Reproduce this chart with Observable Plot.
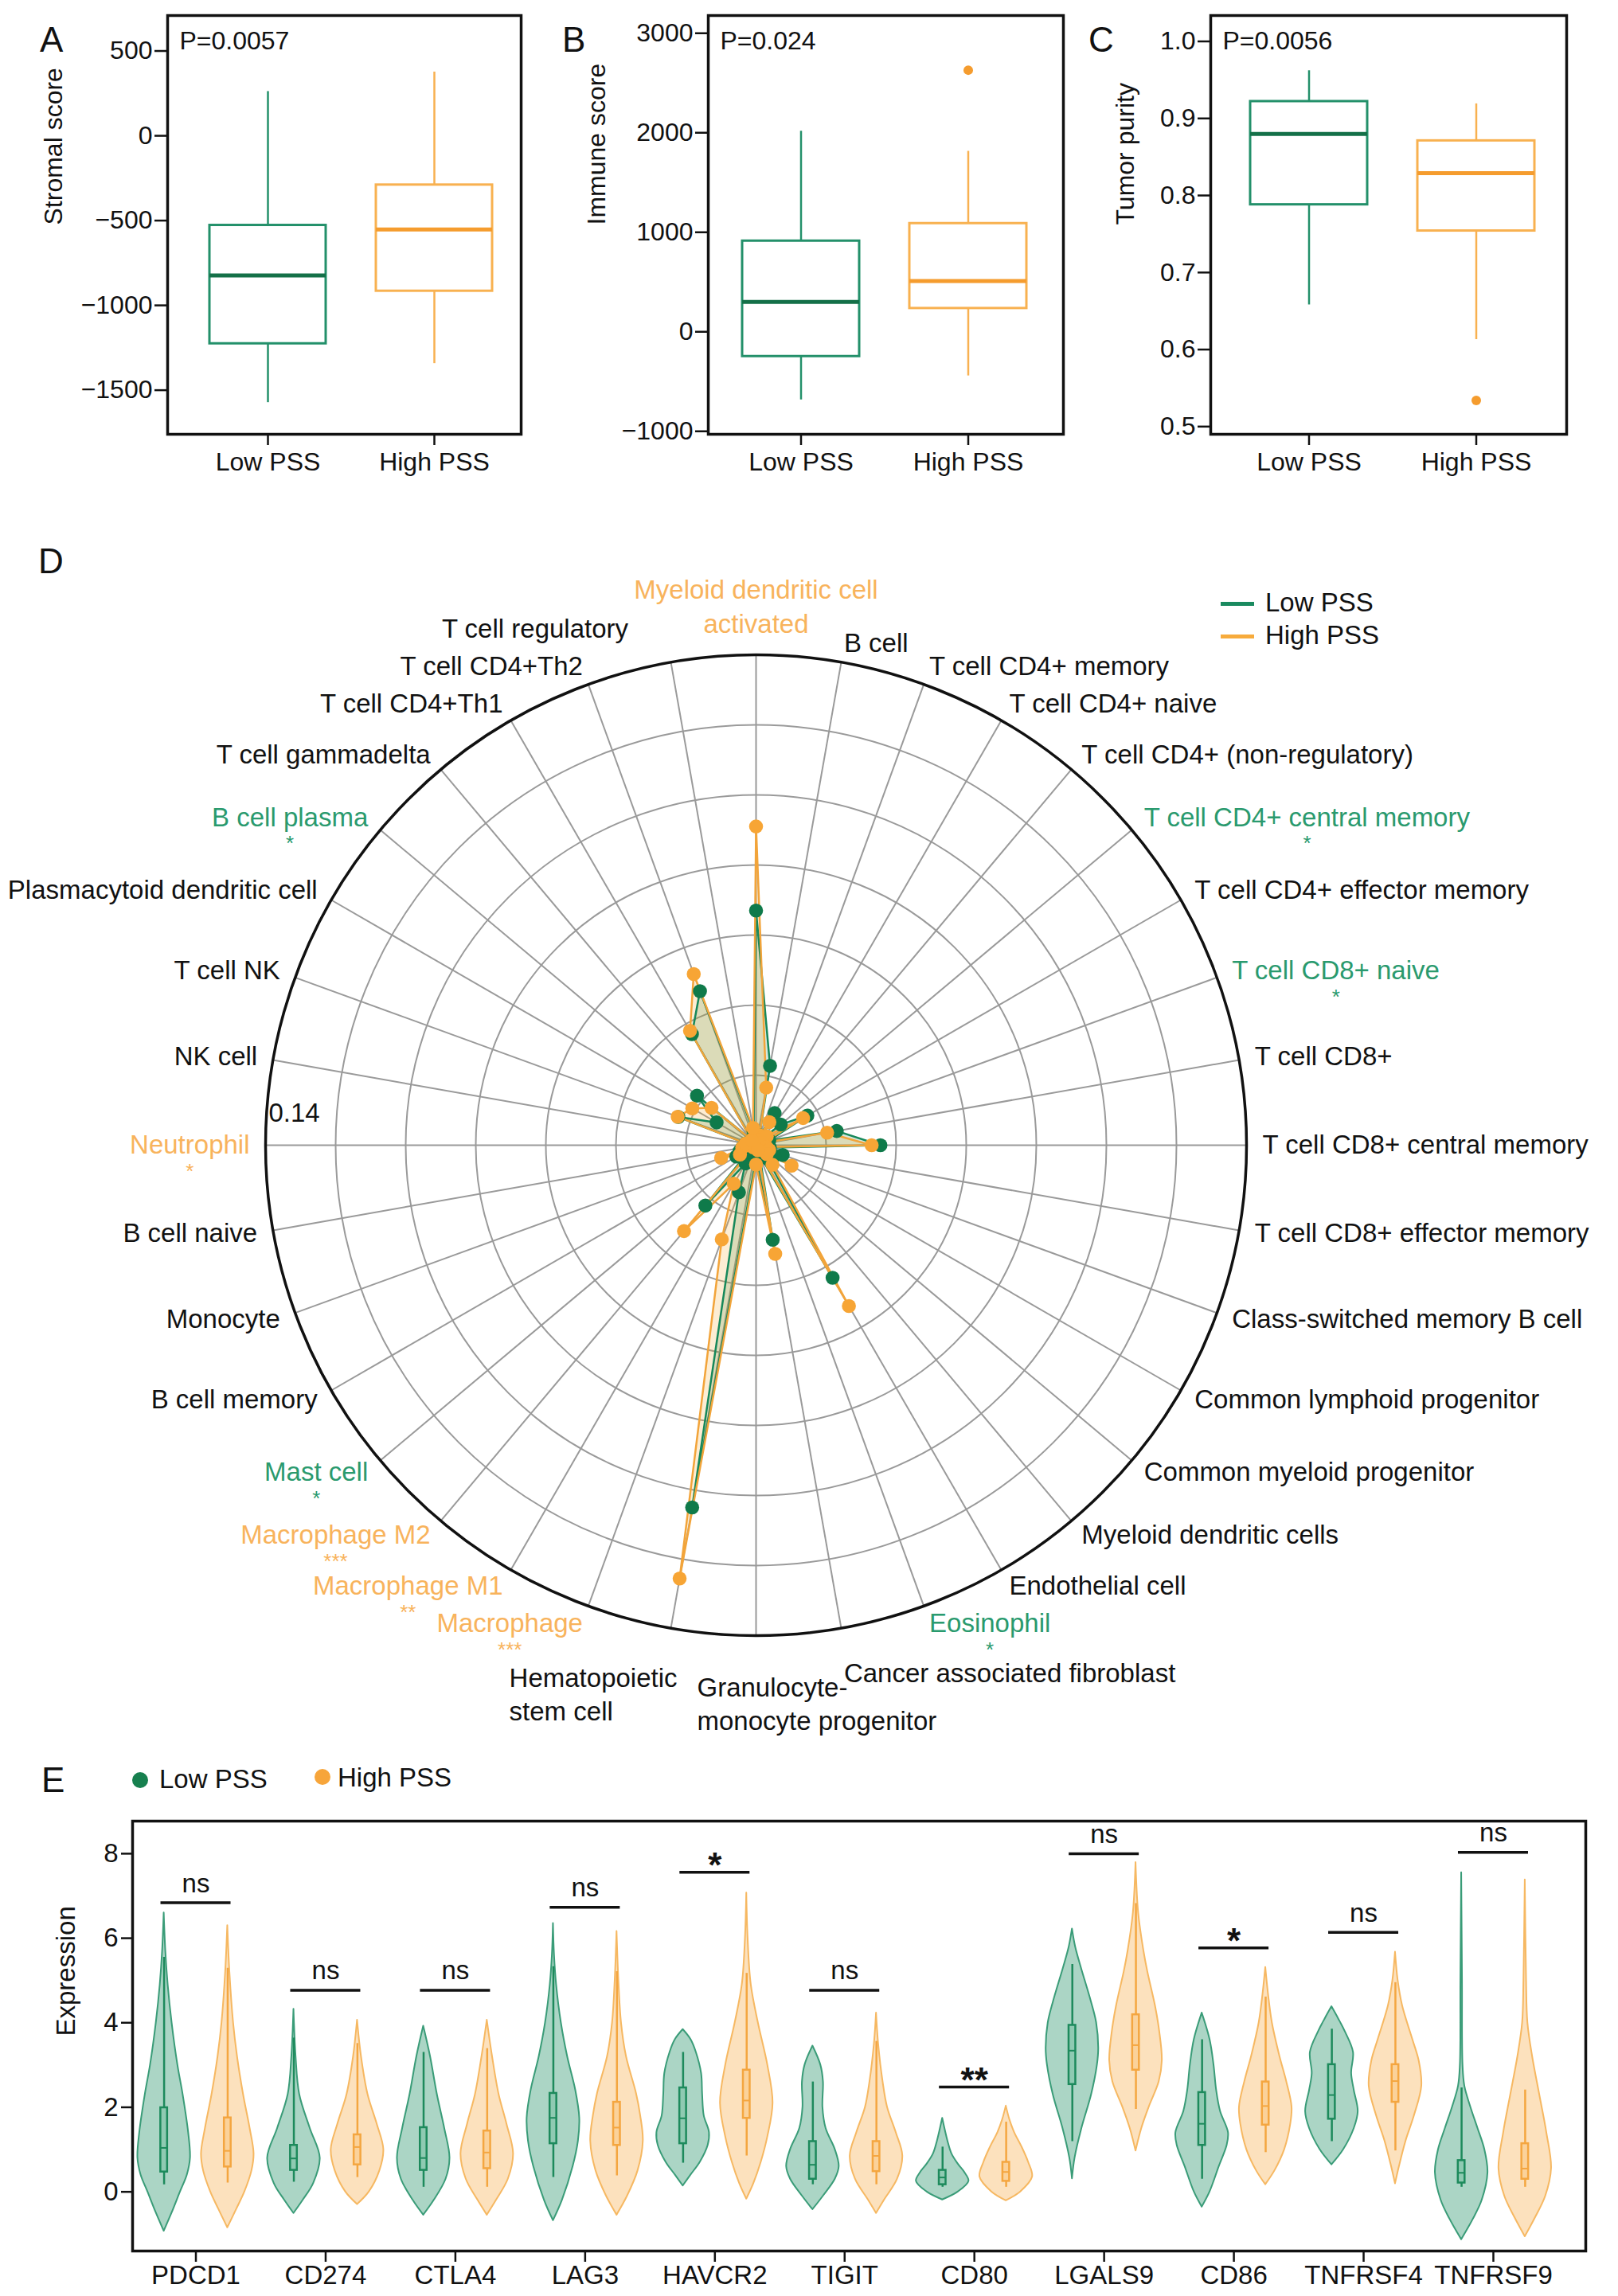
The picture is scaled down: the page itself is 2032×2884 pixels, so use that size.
<!DOCTYPE html>
<html><head><meta charset="utf-8">
<script src="https://cdn.jsdelivr.net/npm/d3@7"></script>
<script src="https://cdn.jsdelivr.net/npm/@observablehq/plot@0.6"></script>
<style>
body{margin:0;background:#fff;}
#page{position:relative;width:2032px;height:2884px;font-family:"Liberation Sans",Arial,Helvetica,sans-serif;color:#111;overflow:hidden;}
.panel{position:absolute;}
.letter{position:absolute;font-size:44px;line-height:1;}
.lg{position:absolute;font-size:33px;line-height:38px;white-space:nowrap;}
</style></head>
<body><div id="page"></div>
<script>
// ---------------- DATA ----------------
const groups = ["Low PSS", "High PSS"];
// [lower whisker, Q1, median, Q3, upper whisker]
const stromalLow = [-1573, -1226, -824, -528, 261];
const stromalHigh = [-1343, -916, -553, -290, 376];
const immuneLow = [-684, -248, 300, 912, 2016];
const immuneHigh = [-443, 235, 511, 1088, 1814];
const immuneOutliers = [{g: "High PSS", v: 2629}];
const purityLow = [0.658, 0.788, 0.880, 0.922, 0.962];
const purityHigh = [0.613, 0.754, 0.829, 0.871, 0.919];
const purityOutliers = [{g: "High PSS", v: 0.534}];
const pValues = ["P=0.0057", "P=0.024", "P=0.0056"];

const cells = ["Myeloid dendritic cell activated","B cell","T cell CD4+ memory","T cell CD4+ naive","T cell CD4+ (non-regulatory)","T cell CD4+ central memory","T cell CD4+ effector memory","T cell CD8+ naive","T cell CD8+","T cell CD8+ central memory","T cell CD8+ effector memory","Class-switched memory B cell","Common lymphoid progenitor","Common myeloid progenitor","Myeloid dendritic cells","Endothelial cell","Eosinophil","Cancer associated fibroblast","Granulocyte-monocyte progenitor","Hematopoietic stem cell","Macrophage","Macrophage M1","Macrophage M2","Mast cell","B cell memory","Monocyte","B cell naive","Neutrophil","NK cell","T cell NK","Plasmacytoid dendritic cell","B cell plasma","T cell gammadelta","T cell CD4+Th1","T cell CD4+Th2","T cell regulatory"];
const cellLabels = cells.map(c => c === "Myeloid dendritic cell activated" ? "Myeloid dendritic cell\nactivated" : c === "Hematopoietic stem cell" ? "Hematopoietic\nstem cell" : c === "Granulocyte-monocyte progenitor" ? "Granulocyte-\nmonocyte progenitor" : c);
const lowScore = [0.067,0.023,0.003,0.0106,0.002,0.0092,0.0169,0.004,0.0234,0.0355,0.004,0.0081,0.006,0.003,0.005,0.0437,0.003,0.0274,0.004,0.105,0.0143,0.006,0.0225,0.003,0.0065,0.005,0.004,0.001,0.003,0.0236,0.013,0.022,0.002,0.0366,0.0468,0.004];
const highScore = [0.091,0.0167,0.003,0.0076,0.002,0.004,0.0155,0.002,0.0206,0.033,0.003,0.004,0.0117,0.004,0.0073,0.053,0.0015,0.0315,0.0055,0.1256,0.0286,0.0127,0.032,0.001,0.0053,0.0106,0.004,0.003,0.003,0.0238,0.021,0.0166,0.002,0.0377,0.052,0.005];
const sigGroup = ["High PSS",null,null,null,null,"Low PSS",null,"Low PSS",null,null,null,null,null,null,null,null,"Low PSS",null,null,null,"High PSS","High PSS","High PSS","Low PSS",null,null,null,"High PSS",null,null,null,"Low PSS",null,null,null,null];
const sigStars = ["","","","","","*","","*","","","","","","","","","*","","","","***","**","***","*","","","","*","","","","*","","","",""];
const ringValues = [0.02, 0.04, 0.06, 0.08, 0.10, 0.12, 0.14];

const genes = ["PDCD1","CD274","CTLA4","LAG3","HAVCR2","TIGIT","CD80","LGALS9","CD86","TNFRSF4","TNFRSF9"];
const lowBox = [[0.17,0.47,1.04,1.99,5.55],[0.23,0.51,0.79,1.10,3.64],[0.11,0.51,0.80,1.52,3.30],[0.34,1.14,1.75,2.33,5.33],[0.68,1.14,1.74,2.46,3.30],[0.17,0.30,0.64,1.19,2.60],[0.11,0.17,0.34,0.51,1.06],[1.19,2.54,3.34,3.94,5.38],[0.30,1.10,1.61,2.35,3.60],[1.19,1.72,2.29,3.01,3.85],[0.11,0.21,0.45,0.74,2.46]];
const highBox = [[0.21,0.59,0.97,1.75,5.29],[0.34,0.64,1.06,1.35,3.51],[0.11,0.55,0.93,1.44,3.39],[0.38,1.10,1.52,2.12,5.21],[0.85,1.74,2.16,2.88,5.17],[0.17,0.48,0.85,1.19,3.56],[0.11,0.25,0.47,0.70,1.65],[1.95,2.88,3.47,4.19,6.82],[0.93,1.58,2.03,2.60,4.61],[0.97,2.12,2.62,3.01,4.95],[0.11,0.30,0.55,1.14,2.41]];
// violin outlines: [expression, relative half-width]
const lowShape = [
 [[-0.93,0],[-0.5,0.3],[0,0.62],[0.4,0.88],[0.8,1],[1.4,0.93],[2.3,0.72],[3.0,0.52],[4.0,0.3],[4.9,0.15],[5.7,0.06],[6.6,0]],
 [[-0.51,0],[-0.2,0.35],[0.2,0.75],[0.8,1],[1.5,0.62],[2.3,0.22],[3.2,0.08],[4.32,0]],
 [[-0.55,0],[-0.2,0.4],[0.3,0.85],[0.8,1],[1.5,0.8],[2.3,0.52],[3.2,0.26],[3.92,0]],
 [[-0.68,0],[-0.2,0.34],[0.6,0.75],[1.2,0.95],[1.75,1],[2.4,0.85],[3.2,0.54],[4.0,0.3],[4.9,0.12],[5.6,0.04],[6.35,0]],
 [[0.14,0],[0.4,0.3],[0.7,0.65],[1.1,0.95],[1.4,1],[1.8,0.8],[2.3,0.74],[2.8,0.7],[3.3,0.5],[3.6,0.3],[3.84,0]],
 [[-0.42,0],[-0.1,0.4],[0.3,0.85],[0.6,1],[1.0,0.85],[1.5,0.5],[2.0,0.38],[2.6,0.4],[3.0,0.3],[3.45,0]],
 [[-0.19,0],[0.0,0.6],[0.25,1],[0.45,0.85],[0.65,0.6],[0.9,0.35],[1.2,0.2],[1.74,0]],
 [[0.31,0],[0.8,0.1],[1.5,0.36],[2.3,0.73],[3.0,0.95],[3.4,1],[4.0,0.92],[4.5,0.72],[5.3,0.34],[5.8,0.12],[6.22,0]],
 [[-0.36,0],[0.0,0.3],[0.6,0.65],[1.1,0.95],[1.4,1],[1.9,0.7],[2.4,0.55],[3.0,0.45],[3.6,0.3],[4.23,0]],
 [[0.64,0],[1.0,0.45],[1.5,0.85],[1.9,1],[2.4,0.85],[2.8,0.75],[3.3,0.82],[3.8,0.5],[4.1,0.25],[4.38,0]],
 [[-1.13,0],[-0.64,0.45],[-0.2,0.78],[0.45,1],[1.0,0.88],[1.5,0.62],[2.0,0.35],[2.5,0.12],[3.0,0.05],[5.0,0.03],[7.55,0]]
];
const highShape = [
 [[-0.85,0],[-0.4,0.35],[0,0.65],[0.5,0.92],[0.9,1],[1.5,0.85],[2.3,0.6],[3.2,0.37],[4.0,0.22],[5.2,0.08],[6.3,0]],
 [[-0.3,0],[0.0,0.45],[0.5,0.85],[1.0,1],[1.6,0.75],[2.3,0.4],[3.2,0.15],[4.06,0]],
 [[-0.55,0],[-0.2,0.35],[0.3,0.8],[0.9,1],[1.6,0.75],[2.3,0.45],[3.2,0.2],[4.06,0]],
 [[-0.55,0],[-0.1,0.4],[0.5,0.8],[1.2,1],[1.8,0.9],[2.33,0.74],[3.2,0.36],[4.0,0.17],[5.0,0.07],[6.16,0]],
 [[-0.17,0],[0.2,0.27],[0.7,0.55],[1.3,0.8],[2.1,1],[3.0,0.8],[4.0,0.44],[4.9,0.17],[6.0,0.05],[7.07,0]],
 [[-0.51,0],[-0.2,0.3],[0.3,0.8],[0.85,1],[1.4,0.75],[2.0,0.42],[2.6,0.25],[3.5,0.08],[4.23,0]],
 [[-0.21,0],[0.0,0.55],[0.35,1],[0.7,0.85],[1.06,0.6],[1.4,0.32],[1.7,0.14],[2.03,0]],
 [[0.97,0],[1.5,0.22],[2.0,0.5],[2.6,0.88],[3.1,1],[3.8,0.9],[4.4,0.74],[5.2,0.45],[5.7,0.3],[6.6,0.1],[7.79,0]],
 [[0.17,0],[0.5,0.35],[1.0,0.72],[1.6,0.95],[2.0,1],[2.6,0.8],[3.2,0.54],[4.0,0.25],[4.7,0.1],[5.31,0]],
 [[0.19,0],[0.6,0.15],[1.2,0.4],[1.8,0.72],[2.5,1],[3.1,0.9],[3.6,0.66],[4.4,0.27],[5.0,0.1],[5.67,0]],
 [[-1.06,0],[-0.6,0.4],[-0.1,0.78],[0.55,1],[1.4,0.82],[2.3,0.55],[3.2,0.28],[4.0,0.1],[5.0,0.05],[7.38,0]]
];
const bracketY = [6.84,4.77,4.77,6.73,7.56,4.77,2.48,8.0,5.77,6.14,8.03];
const bracketText = ["ns","ns","ns","ns","*","ns","**","ns","*","ns","ns"];

// ---------------- STYLE ----------------
const FONT = '"Liberation Sans", Arial, Helvetica, sans-serif';
const GREEN = "#23906a", GREEN_D = "#147048", ORANGE = "#f8b150", ORANGE_D = "#f59c2e";
const LBL_GREEN = "#2a9a6e", LBL_ORANGE = "#f8b35c";
const page = document.getElementById("page");
function place(el, left, top) { const w = document.createElement("div"); w.className = "panel"; w.style.left = left + "px"; w.style.top = top + "px"; w.appendChild(el); page.appendChild(w); }
function html(cls, txt, left, top, extra) { const d = document.createElement("div"); d.className = cls; d.textContent = txt; d.style.left = left + "px"; d.style.top = top + "px"; if (extra) Object.assign(d.style, extra); page.appendChild(d); return d; }
const ctx = document.createElement("canvas").getContext("2d");
function tw(s, size = 33) { ctx.font = `${size}px "Liberation Sans"`; return ctx.measureText(s).width; }
const minus = d => d < 0 ? "\u2212" + Math.abs(d) : String(d);

// ---------------- A, B, C ----------------
function boxPanel({stats, outliers, domain, ticks, fmt, width, ml, mr, align, title, p, tdx}) {
  const rows = groups.map((g, i) => ({g, lo: stats[i][0], q1: stats[i][1], med: stats[i][2], q3: stats[i][3], hi: stats[i][4], c: i ? ORANGE : GREEN, cd: i ? ORANGE_D : GREEN_D}));
  return Plot.plot({
    width, height: 640, marginLeft: ml, marginRight: mr, marginTop: 19, marginBottom: 95,
    style: {fontFamily: FONT, fontSize: "32px", color: "#111", background: "transparent", overflow: "visible"},
    x: {type: "band", domain: groups, paddingInner: 0.3, paddingOuter: 0.21, align},
    y: {domain},
    color: {type: "identity"},
    marks: [
      Plot.axisY({ticks, tickFormat: fmt, tickSize: 16, tickPadding: 3, label: null, strokeWidth: 2.5}),
      Plot.axisX({tickSize: 14, tickPadding: 9, label: null, strokeWidth: 2.5}),
      Plot.ruleX(rows, {x: "g", y1: "lo", y2: "q1", stroke: "c", strokeWidth: 2.5}),
      Plot.ruleX(rows, {x: "g", y1: "q3", y2: "hi", stroke: "c", strokeWidth: 2.5}),
      Plot.barY(rows, {x: "g", y1: "q1", y2: "q3", fill: "white", stroke: "c", strokeWidth: 3}),
      Plot.tickY(rows, {x: "g", y: "med", stroke: "cd", strokeWidth: 5}),
      Plot.dot(outliers, {x: "g", y: "v", fill: ORANGE_D, r: 6, stroke: null}),
      Plot.frame({stroke: "#111", strokeWidth: 3.5}),
      Plot.text([p], {frameAnchor: "top-left", text: d => d, dx: 15, dy: 20, textAnchor: "start", lineAnchor: "top", fontSize: 32, fill: "#111"}),
      Plot.text([title], {frameAnchor: "left", text: d => d, rotate: -90, dx: tdx, fontSize: 32, fill: "#111"})
    ]
  });
}
place(boxPanel({stats: [stromalLow, stromalHigh], outliers: [], domain: [-1760, 709], ticks: [-1500, -1000, -500, 0, 500], fmt: minus, width: 680, ml: 210, mr: 26, align: 0.6, title: "Stromal score", p: pValues[0], tdx: -143}), 0, 0);
place(boxPanel({stats: [immuneLow, immuneHigh], outliers: immuneOutliers, domain: [-1030, 3178], ticks: [-1000, 0, 1000, 2000, 3000], fmt: minus, width: 680, ml: 209, mr: 25, align: 0.48, title: "Immune score", p: pValues[1], tdx: -140}), 680, 0);
place(boxPanel({stats: [purityLow, purityHigh], outliers: purityOutliers, domain: [0.490, 1.0336], ticks: [0.5, 0.6, 0.7, 0.8, 0.9, 1.0], fmt: d3.format(".1f"), width: 672, ml: 160, mr: 65, align: 0.55, title: "Tumor purity", p: pValues[2], tdx: -107}), 1360, 0);

// ---------------- D radar ----------------
const N = cells.length, RMAX = 0.14, R_PX = 616, CX = 949, CY = 758, HD = 1510, WD = 2032;
const k = RMAX / R_PX;
const theta = i => 2 * Math.PI * i / N;
const seriesRows = (vals, grp) => vals.map((v, i) => ({grp, i, v, x: v * Math.sin(theta(i)), y: v * Math.cos(theta(i))}));
const lowRows = seriesRows(lowScore, "Low PSS"), highRows = seriesRows(highScore, "High PSS");
const closed = rows => rows.concat([rows[0]]);
const spokes = cells.map((c, i) => ({i, x2: RMAX * Math.sin(theta(i)), y2: RMAX * Math.cos(theta(i))}));
const labelRows = cellLabels.map((text, i) => {
  const t = theta(i), s = Math.sin(t), co = Math.cos(t);
  const ex = R_PX * s, ey = R_PX * co;
  const color = sigGroup[i] === "Low PSS" ? LBL_GREEN : sigGroup[i] === "High PSS" ? LBL_ORANGE : "#111";
  let kind, lx, ly;
  if (i === 0) { kind = "top"; lx = 0; ly = ey + 28; }
  else if (Math.abs(co + 1) < 1e-9) { kind = "bottom"; lx = ex - 74; ly = ey - 46; }
  else if (s < 0 && co < -0.97) { kind = "bottom"; lx = ex + 8 - tw(text.split("\n")[0]); ly = ey - 44; }
  else if (s > 0) { kind = "right"; lx = ex + 20 * s; ly = ey + 24 * co + (co < -0.95 ? -34 : 0); }
  else { kind = "left"; lx = ex + 20 * s + (co > 0.95 ? -50 : 0); ly = ey + 24 * co + (co > 0.95 ? 18 : 0); }
  return {i, text, color, kind, lx, ly, x: lx * k, y: ly * k, side: s > 0 ? 1 : -1, w: tw(text)};
});
const starRows = labelRows.filter(d => sigStars[d.i]).map(d => ({text: sigStars[d.i], color: d.color, x: (d.lx + d.side * d.w / 2) * k, y: (d.ly - 33) * k}));
const ringLabel = [{text: "0.14", x: -RMAX + 4 * k, y: 40 * k}];
const radar = Plot.plot({
  width: WD, height: HD, margin: 0,
  style: {fontFamily: FONT, fontSize: "33px", background: "transparent", overflow: "visible"},
  x: {domain: [-CX * k, (WD - CX) * k], axis: null},
  y: {domain: [-(HD - CY) * k, CY * k], axis: null},
  r: {type: "linear", domain: [0, RMAX], range: [0, R_PX]},
  color: {type: "identity"},
  marks: [
    Plot.link(spokes, {x1: () => 0, y1: () => 0, x2: "x2", y2: "y2", stroke: "#9a9a9a", strokeWidth: 2}),
    Plot.dot(ringValues, {x: () => 0, y: () => 0, r: d => d, fill: "none", stroke: d => d === RMAX ? "#111" : "#9a9a9a", strokeWidth: d => d === RMAX ? 3.5 : 2}),
    Plot.line(closed(lowRows), {x: "x", y: "y", fill: "#2c8f5c", fillOpacity: 0.2, stroke: "none"}),
    Plot.line(closed(highRows), {x: "x", y: "y", fill: "#f5a623", fillOpacity: 0.2, stroke: "none"}),
    Plot.line(closed(lowRows), {x: "x", y: "y", stroke: "#16885a", strokeWidth: 2.5}),
    Plot.line(closed(highRows), {x: "x", y: "y", stroke: "#f2a43a", strokeWidth: 2.5}),
    Plot.dot(lowRows, {x: "x", y: "y", r: () => 0.002, fill: "#0f7a4a", stroke: null}),
    Plot.dot(highRows, {x: "x", y: "y", r: () => 0.002, fill: "#f7a535", stroke: null}),
    Plot.text(labelRows.filter(d => d.kind === "right"), {x: "x", y: "y", text: "text", fill: "color", textAnchor: "start", fontSize: 33}),
    Plot.text(labelRows.filter(d => d.kind === "left"), {x: "x", y: "y", text: "text", fill: "color", textAnchor: "end", fontSize: 33}),
    Plot.text(labelRows.filter(d => d.kind === "top"), {x: "x", y: "y", text: "text", fill: "color", textAnchor: "middle", lineAnchor: "bottom", lineHeight: 1.28, fontSize: 33}),
    Plot.text(labelRows.filter(d => d.kind === "bottom"), {x: "x", y: "y", text: "text", fill: "color", textAnchor: "start", lineAnchor: "top", lineHeight: 1.28, fontSize: 33}),
    Plot.text(starRows, {x: "x", y: "y", text: "text", fill: "color", textAnchor: "middle", fontSize: 26}),
    Plot.text(ringLabel, {x: "x", y: "y", text: "text", fill: "#111", textAnchor: "start", fontSize: 33})
  ]
});
place(radar, 0, 680);
// radar legend
html("lg", "", 1533, 756, {width: "42px", height: "5px", background: "#1a8a5f"});
html("lg", "", 1533, 797, {width: "42px", height: "5px", background: "#f7ab3c"});
html("lg", groups[0], 1589, 738);
html("lg", groups[1], 1589, 779);

// ---------------- E violins ----------------
const OFF = 0.245, HW = 0.2026, BW = 0.026;
const violinRows = (shapes, sgn, grp) => shapes.flatMap((sh, i) => sh.map(([y, w]) => ({key: genes[i] + grp, y, x1: i + sgn * OFF - w * HW, x2: i + sgn * OFF + w * HW})));
const vLow = violinRows(lowShape, -1, groups[0]), vHigh = violinRows(highShape, 1, groups[1]);
const boxRows = genes.flatMap((g, i) => [
  {x: i - OFF, lo: lowBox[i][0], q1: lowBox[i][1], med: lowBox[i][2], q3: lowBox[i][3], hi: lowBox[i][4], c: "#1d8a5c", f: "#8fcab2"},
  {x: i + OFF, lo: highBox[i][0], q1: highBox[i][1], med: highBox[i][2], q3: highBox[i][3], hi: highBox[i][4], c: "#f4a640", f: "#fbd29a"}
]);
const brRows = genes.map((g, i) => ({i, y: bracketY[i], t: bracketText[i]}));
const violin = Plot.plot({
  width: 2032, height: 704, marginLeft: 166, marginRight: 41, marginTop: 107, marginBottom: 57,
  style: {fontFamily: FONT, fontSize: "33px", color: "#111", background: "transparent", overflow: "visible"},
  x: {domain: [-0.488, 10.712]},
  y: {domain: [-1.40, 8.77]},
  color: {type: "identity"},
  marks: [
    Plot.areaX(vLow, {y: "y", x1: "x1", x2: "x2", z: "key", fill: "#2e966e", fillOpacity: 0.4, stroke: "#3a9c78", strokeWidth: 2, curve: "catmull-rom"}),
    Plot.areaX(vHigh, {y: "y", x1: "x1", x2: "x2", z: "key", fill: "#f7a843", fillOpacity: 0.35, stroke: "#f6b862", strokeWidth: 2, curve: "catmull-rom"}),
    Plot.ruleX(boxRows, {x: "x", y1: "lo", y2: "hi", stroke: "c", strokeWidth: 2.5}),
    Plot.rect(boxRows, {x1: d => d.x - BW, x2: d => d.x + BW, y1: "q1", y2: "q3", fill: "f", stroke: "c", strokeWidth: 2.5}),
    Plot.ruleY(boxRows, {y: "med", x1: d => d.x - BW, x2: d => d.x + BW, stroke: "c", strokeWidth: 2}),
    Plot.ruleY(brRows, {y: "y", x1: d => d.i - 0.27, x2: d => d.i + 0.27, stroke: "#111", strokeWidth: 3.5}),
    Plot.text(brRows.filter(d => d.t === "ns"), {x: "i", y: "y", text: "t", dy: -24, fontSize: 33, fill: "#111"}),
    Plot.text(brRows.filter(d => d.t !== "ns"), {x: "i", y: "y", text: "t", dy: -8, fontSize: 44, fontWeight: "bold", fill: "#111"}),
    Plot.frame({stroke: "#111", strokeWidth: 3.5}),
    Plot.axisY({ticks: [0, 2, 4, 6, 8], tickSize: 14, tickPadding: 4, label: null, strokeWidth: 2.5}),
    Plot.axisX({ticks: genes.map((g, i) => i), tickFormat: i => genes[i], tickSize: 14, tickPadding: 4, label: null, strokeWidth: 2.5}),
    Plot.text(["Expression"], {frameAnchor: "left", text: d => d, rotate: -90, dx: -83, fontSize: 33, fill: "#111"})
  ]
});
place(violin, 0, 2180);
// E legend
html("lg", "", 166, 2226, {width: "20px", height: "20px", borderRadius: "50%", background: "#17804f"});
html("lg", groups[0], 200, 2216);
html("lg", "", 395, 2222, {width: "20px", height: "20px", borderRadius: "50%", background: "#f7a53a"});
html("lg", groups[1], 424, 2214);

// panel letters
html("letter", "A", 50, 28);
html("letter", "B", 706, 28);
html("letter", "C", 1367, 28);
html("letter", "D", 48, 683);
html("letter", "E", 52, 2214);
</script>
</body></html>
